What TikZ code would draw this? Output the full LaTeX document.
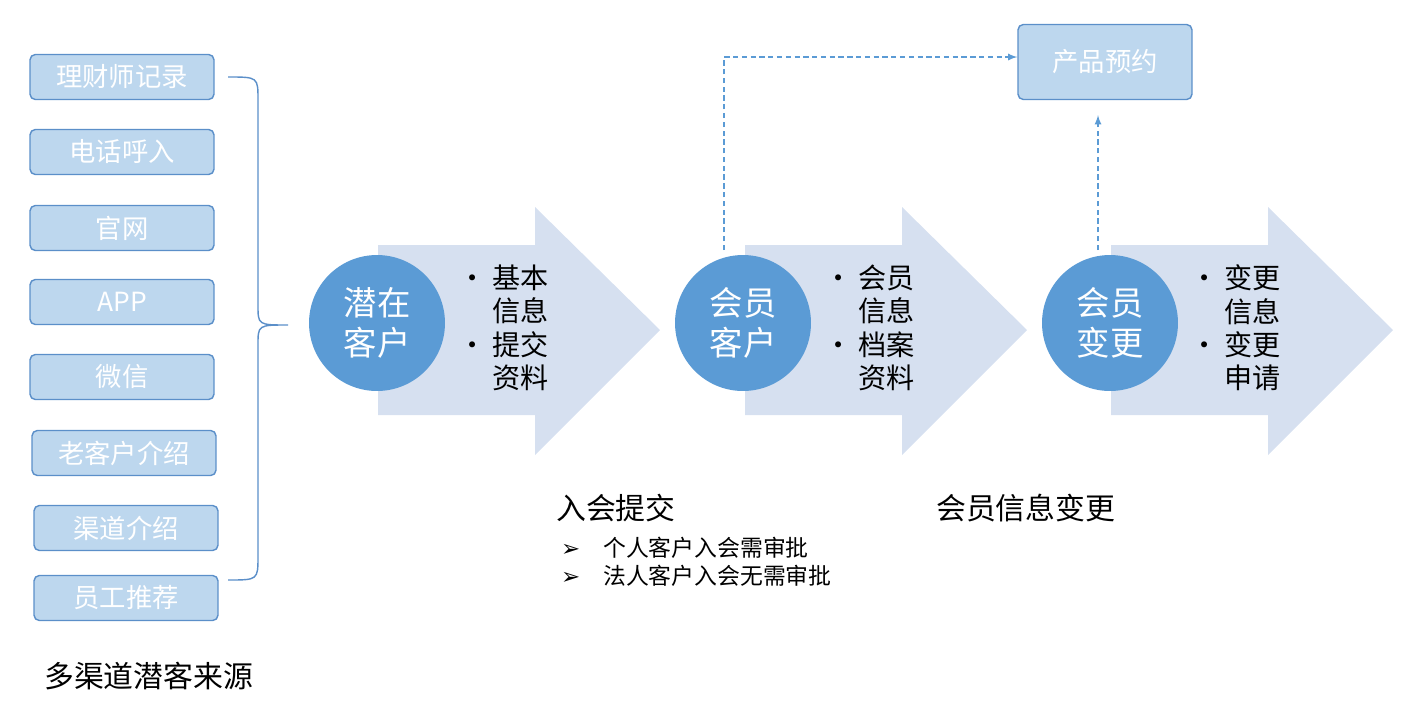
\documentclass[tikz,border=0pt]{standalone}
\usepackage{fontspec}
\setmainfont{Noto Sans CJK SC}
\newfontfamily\symfont{DejaVu Sans}
\usetikzlibrary{positioning}
\definecolor{boxfill}{HTML}{BDD7EE}
\definecolor{boxline}{HTML}{5B8FC9}
\definecolor{chev}{HTML}{D6E0F0}
\definecolor{circ}{HTML}{5B9BD5}
\begin{document}
\begin{tikzpicture}[x=0.02cm,y=-0.02cm,
    src/.style={draw=boxline,fill=boxfill,rounded corners=3pt,line width=0.8pt,
      minimum width=3.68cm,minimum height=0.9cm,text=white,font=\fontsize{15}{15}\selectfont},
    stage/.style={circle,fill=circ,minimum size=2.72cm,text=white,align=center,
      font=\fontsize{19}{23}\selectfont},
    pts/.style={align=left,font=\fontsize{16}{19}\selectfont,anchor=west},
    dashlink/.style={densely dashed,draw=circ,line width=0.8pt,-latex}]
  \useasboundingbox (0,0) rectangle (1418,724);
  % sources
  \node[src] (r1) at (122,77)  {理财师记录};
  \node[src] (r2) at (122,152) {电话呼入};
  \node[src] (r3) at (122,228) {官网};
  \node[src] (r4) at (122,302) {APP};
  \node[src] (r5) at (122,377) {微信};
  \node[src] (r6) at (124,453) {老客户介绍};
  \node[src] (r7) at (126,528) {渠道介绍};
  \node[src] (r8) at (126,598) {员工推荐};
  \draw[boxline,line width=0.8pt] (228,77) .. controls (258,77) .. (258,100) -- (258,305)
    .. controls (258,325) .. (288,325) .. controls (258,325) .. (258,345) -- (258,556)
    .. controls (258,580) .. (228,580);
  \node[anchor=west,font=\fontsize{17}{17}\selectfont] (srclbl) at (38,676) {多渠道潜客来源};
  % chevrons
  \foreach \x in {0,367,733}
    \fill[chev] (378+\x,245) -- (535+\x,245) -- (535+\x,207) -- (660+\x,330)
      -- (535+\x,455) -- (535+\x,415) -- (378+\x,415) -- cycle;
  \node[stage] (c1) at (377,323) {潜在\\客户};
  \node[stage] (c2) at (743,323) {会员\\客户};
  \node[stage] (c3) at (1110,323) {会员\\变更};
  \node[pts] (p1) at (452,328) {•\ 基本\\\phantom{•\ }信息\\•\ 提交\\\phantom{•\ }资料};
  \node[pts] (p2) at (818,328) {•\ 会员\\\phantom{•\ }信息\\•\ 档案\\\phantom{•\ }资料};
  \node[pts] (p3) at (1184,328) {•\ 变更\\\phantom{•\ }信息\\•\ 变更\\\phantom{•\ }申请};
  % booking
  \node[src,minimum width=3.48cm,minimum height=1.5cm] (book) at (1105,62) {产品预约};
  \coordinate (u1) at (724,250);
  \coordinate (u2) at (724,57);
  \coordinate (u3) at (1098,250);
  \draw[dashlink] (u1) -- (u2) -- (book.west |- u2);
  \draw[dashlink] (u3) -- ([yshift=-0.3cm]book.south -| u3);
  % notes
  \node[anchor=west,font=\fontsize{17}{17}\selectfont] (n1) at (550,508) {入会提交};
  \node[anchor=west,align=left,font=\fontsize{13}{16}\selectfont] (n2) at (555,562)
    {{\symfont ➢}\quad 个人客户入会需审批\\{\symfont ➢}\quad 法人客户入会无需审批};
  \node[anchor=west,font=\fontsize{17}{17}\selectfont] (n3) at (930,508) {会员信息变更};
\end{tikzpicture}
\end{document}
